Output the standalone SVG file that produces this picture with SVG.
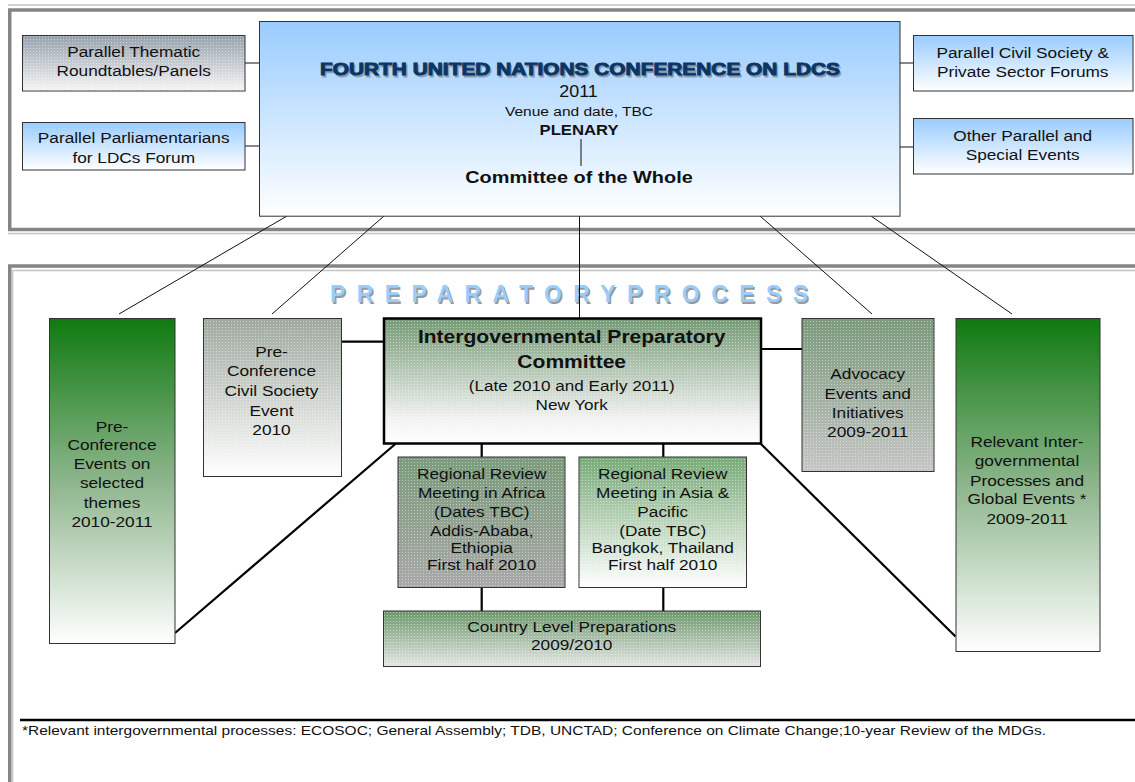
<svg xmlns="http://www.w3.org/2000/svg" width="1135" height="782" viewBox="0 0 1135 782">
<style>
.t{font-family:"Liberation Sans",Arial,sans-serif;font-size:15px;fill:#111;text-anchor:middle}
.b{font-weight:bold}
.box{stroke:#333;stroke-width:1}
.dots{fill:url(#dots);stroke:none}
.thin{stroke:#111;stroke-width:1;fill:none}
.thick{stroke:#000;stroke-width:2.2;fill:none}
.fr{fill:none;stroke:#858585;stroke-width:3.5}
.frl{fill:none;stroke:#c4c4c4;stroke-width:1.5}
</style>
<defs>
<pattern id="dots" width="3" height="3" patternUnits="userSpaceOnUse"><rect x="0" y="0" width="1" height="1" fill="#ffffff" fill-opacity="0.45"/></pattern>
<linearGradient id="gBlue" x1="0" y1="0" x2="0" y2="1"><stop offset="0" stop-color="#99ccff"/><stop offset="1" stop-color="#ffffff"/></linearGradient>
<linearGradient id="gThem" x1="0" y1="0" x2="0" y2="1"><stop offset="0" stop-color="#97a1ae"/><stop offset="1" stop-color="#f6f6f6"/></linearGradient>
<linearGradient id="gGreen" x1="0" y1="0" x2="0" y2="1"><stop offset="0" stop-color="#0f7a10"/><stop offset="0.5" stop-color="#8db58c"/><stop offset="1" stop-color="#ffffff"/></linearGradient>
<linearGradient id="gCSE" x1="0" y1="0" x2="0" y2="1"><stop offset="0" stop-color="#a0a9a0"/><stop offset="1" stop-color="#ffffff"/></linearGradient>
<linearGradient id="gIPC" x1="0" y1="0" x2="0" y2="1"><stop offset="0" stop-color="#759a75"/><stop offset="0.8" stop-color="#f2f2f2"/><stop offset="1" stop-color="#ffffff"/></linearGradient>
<linearGradient id="gAdv" x1="0" y1="0" x2="0" y2="1"><stop offset="0" stop-color="#7c9a7c"/><stop offset="1" stop-color="#c6c6c6"/></linearGradient>
<linearGradient id="gAfr" x1="0" y1="0" x2="0" y2="1"><stop offset="0" stop-color="#7b9b7b"/><stop offset="1" stop-color="#a9a9a9"/></linearGradient>
<linearGradient id="gAsia" x1="0" y1="0" x2="0" y2="1"><stop offset="0" stop-color="#78aa78"/><stop offset="1" stop-color="#ffffff"/></linearGradient>
<linearGradient id="gCountry" x1="0" y1="0" x2="0" y2="1"><stop offset="0" stop-color="#6e996e"/><stop offset="1" stop-color="#e6e6e6"/></linearGradient>
</defs>
<rect width="1135" height="782" fill="#ffffff"/>

<g id="frames">
<line class="frl" x1="8" y1="5" x2="1135" y2="5"/>
<path class="fr" d="M1140,10 H9.75 V229.5 H1140"/>
<line class="frl" x1="8" y1="233.5" x2="1135" y2="233.5"/>
<path class="fr" d="M9.75,790 V266 H1140"/>
<path class="frl" d="M12.5,790 V270.5 H1140"/>
</g>

<g id="prep-title">
<text x="331.5" y="303.5" textLength="478" lengthAdjust="spacing" style="font-family:'Liberation Sans',Arial,sans-serif;font-size:23px;font-weight:bold;fill:#9a9a9a">PREPARATORYPROCESS</text>
<text x="330" y="302" textLength="478" lengthAdjust="spacing" style="font-family:'Liberation Sans',Arial,sans-serif;font-size:23px;font-weight:bold;fill:#99ccff">PREPARATORYPROCESS</text>
</g>

<g id="connectors">
<line class="thin" x1="245" y1="63" x2="259" y2="63"/>
<line class="thin" x1="245" y1="146" x2="259" y2="146"/>
<line class="thin" x1="900" y1="63" x2="913" y2="63"/>
<line class="thin" x1="900" y1="147" x2="913" y2="147"/>
<line class="thin" x1="287" y1="216" x2="119" y2="314"/>
<line class="thin" x1="384" y1="216" x2="272" y2="314"/>
<line class="thin" x1="579.5" y1="216" x2="579.5" y2="318"/>
<line class="thin" x1="760" y1="216" x2="872" y2="314"/>
<line class="thin" x1="871" y1="216" x2="1012" y2="314"/>
<line class="thick" x1="341" y1="341.7" x2="384" y2="341.7"/>
<line class="thick" x1="761" y1="349" x2="802" y2="349"/>
<line class="thick" x1="481.7" y1="443" x2="481.7" y2="457"/>
<line class="thick" x1="663.3" y1="443" x2="663.3" y2="457"/>
<line class="thick" x1="481.7" y1="587" x2="481.7" y2="611"/>
<line class="thick" x1="663.3" y1="587" x2="663.3" y2="611"/>
<line class="thick" x1="396.5" y1="443" x2="175" y2="633"/>
<line class="thick" x1="760" y1="443" x2="955.5" y2="636.5"/>
</g>

<g id="conference">
<rect class="box" x="259.5" y="21.5" width="640.5" height="194.7" fill="url(#gBlue)"/>
<text x="321.5" y="76.5" textLength="520" lengthAdjust="spacingAndGlyphs" style="font-family:'Liberation Sans',Arial,sans-serif;font-size:16.5px;font-weight:bold;fill:#8d9db0;stroke:#8d9db0;stroke-width:0.8">FOURTH UNITED NATIONS CONFERENCE ON LDCS</text>
<text x="320" y="75" textLength="520" lengthAdjust="spacingAndGlyphs" style="font-family:'Liberation Sans',Arial,sans-serif;font-size:16.5px;font-weight:bold;fill:#0b3565;stroke:#0b3565;stroke-width:0.9">FOURTH UNITED NATIONS CONFERENCE ON LDCS</text>
<text class="t" transform="matrix(1.12 0 0 1 578.5 0)" x="0" y="97" style="font-size:16px">2011</text>
<text class="t" transform="matrix(1.15 0 0 1 579 0)" x="0" y="116.5" style="font-size:13.5px">Venue and date, TBC</text>
<text class="t b" transform="matrix(1.15 0 0 1 579 0)" x="0" y="135.5" style="font-size:14.5px">PLENARY</text>
<line class="thin" x1="581" y1="139" x2="581" y2="166"/>
<text class="t b" transform="matrix(1.15 0 0 1 579 0)" x="0" y="182.7" style="font-size:17.3px">Committee of the Whole</text>
</g>

<g id="thematic">
<rect class="box" x="22.5" y="35.5" width="222.5" height="55.5" fill="url(#gThem)"/>
<rect class="dots" x="23" y="36" width="221.5" height="54.5"/>
<text class="t" transform="matrix(1.15 0 0 1 133.7 0)"><tspan x="0" y="57.3">Parallel Thematic</tspan><tspan x="0" y="76">Roundtables/Panels</tspan></text>
</g>

<g id="parliamentarians">
<rect class="box" x="22.5" y="122.5" width="222.5" height="47.5" fill="url(#gBlue)"/>
<text class="t" transform="matrix(1.15 0 0 1 133.7 0)"><tspan x="0" y="143.3">Parallel Parliamentarians</tspan><tspan x="0" y="163">for LDCs Forum</tspan></text>
</g>

<g id="civil-private">
<rect class="box" x="913.5" y="35.5" width="219.5" height="55.5" fill="url(#gBlue)"/>
<text class="t" transform="matrix(1.15 0 0 1 1022.7 0)"><tspan x="0" y="58.3">Parallel Civil Society &amp;</tspan><tspan x="0" y="76.7">Private Sector Forums</tspan></text>
</g>

<g id="other-parallel">
<rect class="box" x="913.5" y="118.5" width="219.5" height="55.5" fill="url(#gBlue)"/>
<text class="t" transform="matrix(1.15 0 0 1 1022.7 0)"><tspan x="0" y="141">Other Parallel and</tspan><tspan x="0" y="160">Special Events</tspan></text>
</g>

<g id="pre-conf-events">
<rect class="box" x="49.5" y="318.5" width="125.5" height="325" fill="url(#gGreen)"/>
<text class="t" transform="matrix(1.15 0 0 1 112 0)"><tspan x="0" y="431.7">Pre-</tspan><tspan x="0" y="450.5">Conference</tspan><tspan x="0" y="469.5">Events on</tspan><tspan x="0" y="488.5">selected</tspan><tspan x="0" y="508">themes</tspan><tspan x="0" y="527.5">2010-2011</tspan></text>
</g>

<g id="civil-society-event">
<rect class="box" x="203.5" y="318.5" width="138" height="158" fill="url(#gCSE)"/>
<rect class="dots" x="204" y="319" width="137" height="157"/>
<text class="t" transform="matrix(1.15 0 0 1 271.5 0)"><tspan x="0" y="356.7">Pre-</tspan><tspan x="0" y="376.5">Conference</tspan><tspan x="0" y="396.5">Civil Society</tspan><tspan x="0" y="415.7">Event</tspan><tspan x="0" y="435.5">2010</tspan></text>
</g>

<g id="ipc">
<rect x="384" y="318.5" width="377" height="125" fill="url(#gIPC)" stroke="#000" stroke-width="2.5"/>
<rect class="dots" x="385.5" y="320" width="374" height="122"/>
<text class="t b" transform="matrix(1.15 0 0 1 571.7 0)" style="font-size:18.3px"><tspan x="0" y="343.3">Intergovernmental Preparatory</tspan><tspan x="0" y="367.7">Committee</tspan></text>
<text class="t" transform="matrix(1.14 0 0 1 571.7 0)"><tspan x="0" y="390.7">(Late 2010 and Early 2011)</tspan><tspan x="0" y="410">New York</tspan></text>
</g>

<g id="advocacy">
<rect class="box" x="802" y="318.5" width="132" height="153" fill="url(#gAdv)"/>
<rect class="dots" x="802.5" y="319" width="131" height="152"/>
<text class="t" transform="matrix(1.15 0 0 1 867.7 0)"><tspan x="0" y="379.3">Advocacy</tspan><tspan x="0" y="398.7">Events and</tspan><tspan x="0" y="417.7">Initiatives</tspan><tspan x="0" y="437.5">2009-2011</tspan></text>
</g>

<g id="relevant-processes">
<rect class="box" x="956" y="318.5" width="144" height="333" fill="url(#gGreen)"/>
<text class="t" transform="matrix(1.15 0 0 1 1027 0)"><tspan x="0" y="446.7">Relevant Inter-</tspan><tspan x="0" y="466.5">governmental</tspan><tspan x="0" y="486">Processes and</tspan><tspan x="0" y="504.5">Global Events *</tspan><tspan x="0" y="524">2009-2011</tspan></text>
</g>

<g id="africa">
<rect class="box" x="398" y="457" width="167" height="130.5" fill="url(#gAfr)"/>
<rect class="dots" x="398.5" y="457.5" width="166" height="129.5"/>
<text class="t" transform="matrix(1.15 0 0 1 481.7 0)"><tspan x="0" y="479.3">Regional Review</tspan><tspan x="0" y="498.3">Meeting in Africa</tspan><tspan x="0" y="516.7">(Dates TBC)</tspan><tspan x="0" y="535.7">Addis-Ababa,</tspan><tspan x="0" y="553.3">Ethiopia</tspan><tspan x="0" y="570">First half 2010</tspan></text>
</g>

<g id="asia">
<rect class="box" x="579" y="457" width="167.5" height="130.5" fill="url(#gAsia)"/>
<rect class="dots" x="579.5" y="457.5" width="166.5" height="129.5"/>
<text class="t" transform="matrix(1.15 0 0 1 662.7 0)"><tspan x="0" y="479.3">Regional Review</tspan><tspan x="0" y="498.3">Meeting in Asia &amp;</tspan><tspan x="0" y="516.7">Pacific</tspan><tspan x="0" y="535.7">(Date TBC)</tspan><tspan x="0" y="553.3">Bangkok, Thailand</tspan><tspan x="0" y="570">First half 2010</tspan></text>
</g>

<g id="country">
<rect class="box" x="383.5" y="611" width="377" height="55.5" fill="url(#gCountry)"/>
<rect class="dots" x="384" y="611.5" width="376" height="54.5"/>
<text class="t" transform="matrix(1.15 0 0 1 571.7 0)"><tspan x="0" y="631.7">Country Level Preparations</tspan><tspan x="0" y="650.5">2009/2010</tspan></text>
</g>

<g id="footnote">
<line x1="20" y1="720" x2="1135" y2="720" stroke="#000" stroke-width="2.5"/>
<text x="22" y="735" textLength="1024" lengthAdjust="spacingAndGlyphs" style="font-family:'Liberation Sans',Arial,sans-serif;font-size:13px;fill:#111">*Relevant intergovernmental processes: ECOSOC; General Assembly; TDB, UNCTAD; Conference on Climate Change;10-year Review of the MDGs.</text>
</g>
</svg>
